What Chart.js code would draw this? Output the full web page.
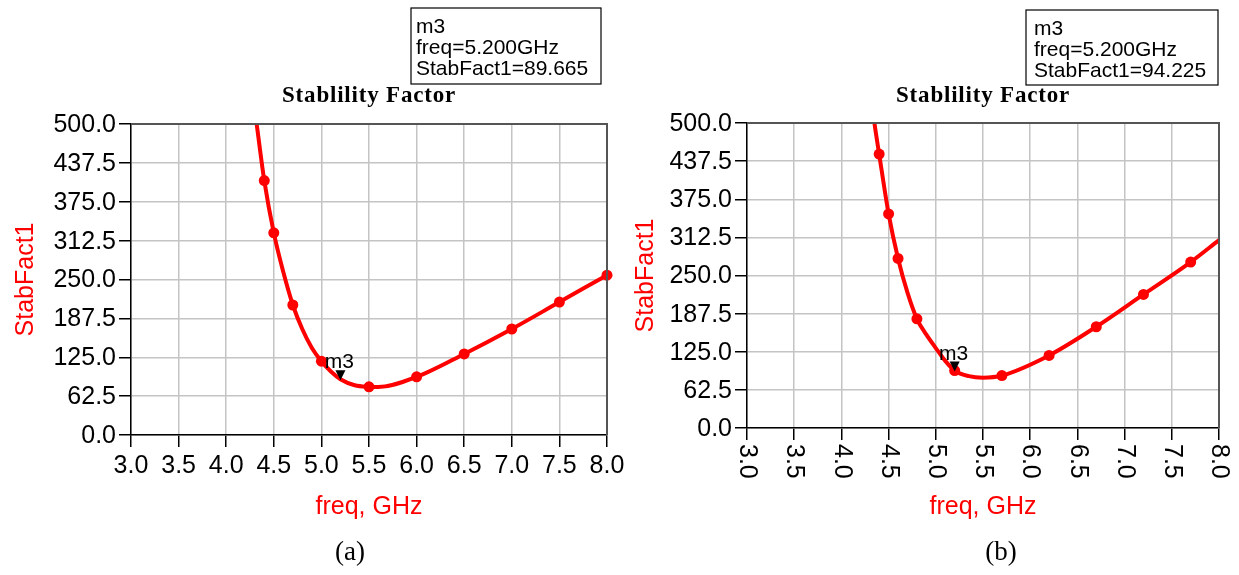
<!DOCTYPE html>
<html>
<head>
<meta charset="utf-8">
<script src="https://cdn.jsdelivr.net/npm/chart.js@4.4.0/dist/chart.umd.min.js"></script>
<style>
html,body{margin:0;padding:0;background:#fff;}
#wrap{position:relative;width:1239px;height:575px;overflow:hidden;background:#fff;}
.panel{position:absolute;top:0;height:575px;}
</style>
</head>
<body>
<div id="wrap">
  <div class="panel" style="left:0;width:640px"><canvas id="stab_a" width="640" height="575"></canvas></div>
  <div class="panel" style="left:620px;width:619px"><canvas id="stab_b" width="619" height="575"></canvas></div>
</div>
<script>
// tick labels (same on both plots)
const xTickLabels = ['3.0','3.5','4.0','4.5','5.0','5.5','6.0','6.5','7.0','7.5','8.0']
const yTickLabels = ['0.0','62.5','125.0','187.5','250.0','312.5','375.0','437.5','500.0']

// (a) curve
const freqA = [4.28, 4.32, 4.4, 4.5, 4.6, 4.7, 4.8, 4.9, 5.0, 5.1, 5.2, 5.35, 5.5, 5.6, 6.0, 6.5, 7.0, 7.5, 8.0]
const stabA = [545, 500, 409, 325, 262, 209, 170, 140, 118.6, 102, 89.7, 80, 77.5, 77.2, 93.5, 130.3, 170.4, 213.7, 257]
// (a) dots on the curve
const markFreqA = [4.4, 4.5, 4.7, 5.0, 5.5, 6.0, 6.5, 7.0, 7.5, 8.0]
const markStabA = [409, 325, 209, 118.6, 77.5, 93.5, 130.3, 170.4, 213.7, 257]

// (b) curve
const freqB = [4.31, 4.35, 4.4, 4.5, 4.6, 4.7, 4.8, 4.9, 5.0, 5.1, 5.2, 5.35, 5.5, 5.7, 6.2, 6.7, 7.2, 7.7, 8.0]
const stabB = [550, 500, 449, 351, 278, 222, 179, 153, 131, 110, 94.2, 85, 82.5, 86, 119, 166, 219, 272, 308]
// (b) dots
const markFreqB = [4.4, 4.5, 4.6, 4.8, 5.2, 5.7, 6.2, 6.7, 7.2, 7.7]
const markStabB = [449, 351, 278, 179, 94.2, 86, 119, 166, 219, 272]

// marker m3
const m3Freq = 5.2
const m3StabA = 89.665
const m3StabB = 94.225

const RED = '#ff0000'
const SANS = "'Liberation Sans', Arial, sans-serif"
const SERIF = "'Liberation Serif', 'Times New Roman', serif"

function to_points(xs, ys){
    return xs.map((x,i) => ({x:x, y:ys[i]}))
}

const adsDecor = {
    id: 'adsDecor',
    afterDatasetsDraw(chart, args, o){
        const ctx = chart.ctx
        const ca = chart.chartArea
        const xs = chart.scales.x
        const ys = chart.scales.y
        const cx = (ca.left + ca.right) / 2
        ctx.save()

        // marker readout box
        const b = o.box
        ctx.strokeStyle = '#000'
        ctx.lineWidth = 1.2
        ctx.strokeRect(b[0], b[1], b[2], b[3])
        ctx.fillStyle = '#000'
        ctx.font = '21px ' + SANS
        ctx.textAlign = 'left'
        ctx.textBaseline = 'alphabetic'
        const lines = ['m3', 'freq=' + m3Freq.toFixed(3) + 'GHz', 'StabFact1=' + o.m3Stab.toFixed(3)]
        lines.forEach((s, i) => ctx.fillText(s, b[0] + o.boxPad, b[1] + 25 + i * 21))

        // plot title
        ctx.font = 'bold 23px ' + SERIF
        ctx.textAlign = 'center'
        ctx.letterSpacing = '0.8px'
        ctx.fillText('Stablility Factor', cx, 102)
        ctx.letterSpacing = '0px'

        // top and right frame
        ctx.strokeStyle = '#555'
        ctx.lineWidth = 2
        ctx.beginPath()
        ctx.moveTo(ca.left, ca.top)
        ctx.lineTo(ca.right, ca.top)
        ctx.lineTo(ca.right, ca.bottom)
        ctx.stroke()

        // m3 triangle on the curve
        const mx = xs.getPixelForValue(m3Freq)
        const my = ys.getPixelForValue(o.m3Stab)
        ctx.beginPath()
        ctx.moveTo(mx, my + 1)
        ctx.lineTo(mx - 5, my - 9)
        ctx.lineTo(mx + 5, my - 9)
        ctx.closePath()
        ctx.fill()
        ctx.font = '21px ' + SANS
        ctx.fillText('m3', mx - 1, my - 11)

        // y tick labels
        ctx.font = '25px ' + SANS
        ctx.textAlign = 'right'
        ctx.textBaseline = 'middle'
        yTickLabels.forEach(t => {
            ctx.fillText(t, ca.left - 15, ys.getPixelForValue(parseFloat(t)) + 1)
        })

        // x tick labels
        xTickLabels.forEach(t => {
            const px = xs.getPixelForValue(parseFloat(t))
            if(o.rotateX){
                ctx.save()
                ctx.translate(px, ca.bottom + 16)
                ctx.rotate(Math.PI / 2)
                ctx.textAlign = 'left'
                ctx.textBaseline = 'middle'
                ctx.fillText(t, 0, 0)
                ctx.restore()
            }else{
                ctx.textAlign = 'center'
                ctx.textBaseline = 'middle'
                ctx.fillText(t, px, ca.bottom + 31)
            }
        })

        // axis titles
        ctx.fillStyle = RED
        ctx.font = '25px ' + SANS
        ctx.textAlign = 'center'
        ctx.textBaseline = 'middle'
        ctx.fillText('freq, GHz', cx, 507)
        ctx.save()
        ctx.translate(o.yTitleX, (ca.top + ca.bottom) / 2)
        ctx.rotate(-Math.PI / 2)
        ctx.fillText('StabFact1', 0, 0)
        ctx.restore()

        // caption
        ctx.fillStyle = '#000'
        ctx.font = '27px ' + SERIF
        ctx.fillText(o.caption, o.captionX, 553)
        ctx.restore()
    }
}

function make_stab_chart(id, freq, stab, mFreq, mStab, decor, pad){
    const ctx = document.getElementById(id).getContext('2d')
    return new Chart(ctx, {
        type: 'line',
        data: {
            datasets: [{
                data: to_points(freq, stab),
                borderColor: RED,
                borderWidth: 4,
                pointRadius: 0,
                cubicInterpolationMode: 'monotone',
                clip: {left: 0, top: 0, right: 8, bottom: 0}
            },{
                data: to_points(mFreq, mStab),
                showLine: false,
                pointRadius: 5.5,
                pointBackgroundColor: RED,
                pointBorderColor: RED,
                pointBorderWidth: 0,
                clip: {left: 0, top: 0, right: 8, bottom: 0}
            }]
        },
        options: {
            responsive: false,
            animation: false,
            devicePixelRatio: 1,
            layout: {padding: pad},
            plugins: {
                legend: {display: false},
                tooltip: {enabled: false},
                adsDecor: decor
            },
            scales: {
                x: {
                    type: 'linear',
                    min: 3, max: 8,
                    afterBuildTicks: s => { s.ticks = xTickLabels.map(t => ({value: parseFloat(t)})) },
                    ticks: {display: false},
                    grid: {color: '#c4c4c4', lineWidth: 1.5, drawTicks: true, tickLength: 12, tickColor: '#000', tickWidth: 1.5},
                    border: {color: '#000', width: 1.5}
                },
                y: {
                    min: 0, max: 500,
                    afterBuildTicks: s => { s.ticks = yTickLabels.map(t => ({value: parseFloat(t)})) },
                    ticks: {display: false},
                    grid: {color: '#c4c4c4', lineWidth: 1.5, drawTicks: true, tickLength: 12, tickColor: '#000', tickWidth: 1.5},
                    border: {color: '#000', width: 1.5}
                }
            }
        },
        plugins: [adsDecor]
    })
}

make_stab_chart('stab_a', freqA, stabA, markFreqA, markStabA,
    {rotateX: false, yTitleX: 26, box: [411, 8, 190, 76], boxPad: 5, m3Stab: m3StabA, caption: '(a)', captionX: 350},
    {left: 119, right: 33, top: 124, bottom: 128})

make_stab_chart('stab_b', freqB, stabB, markFreqB, markStabB,
    {rotateX: true, yTitleX: 26, box: [406, 10, 192, 75], boxPad: 8, m3Stab: m3StabB, caption: '(b)', captionX: 381},
    {left: 115, right: 20, top: 123, bottom: 135})
</script>
</body>
</html>
